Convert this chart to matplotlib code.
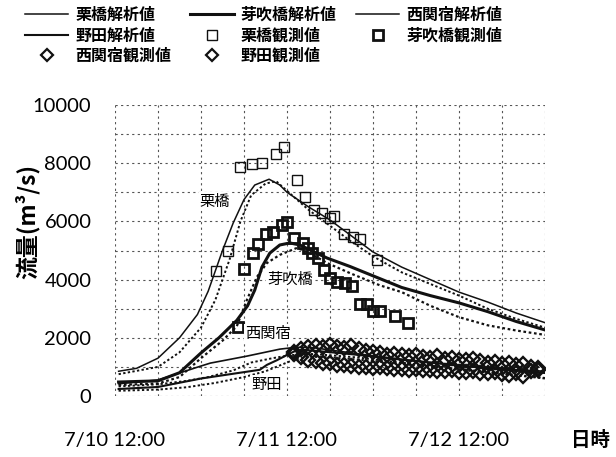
import matplotlib
matplotlib.use("Agg")
import matplotlib.pyplot as plt
from matplotlib.ticker import MultipleLocator
from matplotlib.lines import Line2D

plt.rcParams['font.family'] = ['Noto Sans CJK JP', 'DejaVu Sans']

# hours counted from 7/10 12:00
x_ticks = [0, 24, 48]
x_labels = ['7/10 12:00', '7/11 12:00', '7/12 12:00']

# analysis values (solid) and second run (dotted)
kuri_h = [0.5, 3, 6, 9, 11.5, 13, 15, 16.5, 18, 19.5, 21.5, 23, 24, 27, 30, 33, 36, 40, 44, 48, 52, 56, 60]
kuri_v = [850, 950, 1300, 2000, 2800, 3600, 5000, 5950, 6750, 7250, 7450, 7250, 7000, 6500, 6050, 5500, 4950, 4430, 4000, 3570, 3230, 2850, 2520]
kuri_dot_h = [0.5, 6, 9, 12, 14, 16, 17.5, 19, 21, 22.5, 24, 27, 30, 33, 36, 40, 44, 48, 52, 56, 60]
kuri_dot_v = [750, 1000, 1500, 2350, 3300, 4700, 6000, 6900, 7300, 7380, 7050, 6400, 5850, 5300, 4800, 4250, 3850, 3450, 3000, 2650, 2350]

mebu_h = [0.5, 6, 9, 12, 14.5, 17, 18.5, 19.5, 20.5, 21.6, 23, 24.4, 25.8, 27.2, 29.6, 32.8, 37.4, 40, 44, 48, 52, 56, 60]
mebu_v = [480, 520, 800, 1480, 2000, 2600, 3100, 3640, 4430, 4910, 5190, 5260, 5190, 5020, 4740, 4450, 3990, 3730, 3450, 3200, 2900, 2560, 2270]
mebu_dot_h = [0.5, 6, 9, 12, 15, 17, 18.4, 19.8, 21.2, 23, 25.4, 27.2, 29.6, 33, 37, 40, 44, 48, 52, 56, 60]
mebu_dot_v = [380, 430, 650, 1300, 1900, 2400, 3300, 4090, 4570, 4850, 5090, 4910, 4570, 4200, 3800, 3570, 3100, 2710, 2430, 2250, 2100]

nishi_h = [0.5, 6, 9, 12, 13.3, 18.4, 23, 24.4, 26, 28, 30, 33, 36, 40, 44, 48, 52, 56, 60]
nishi_v = [420, 550, 790, 1030, 1130, 1370, 1610, 1650, 1680, 1650, 1580, 1480, 1380, 1260, 1150, 1050, 960, 900, 850]
nishi_dot_h = [0.5, 6, 10, 13, 16.5, 19, 22, 24.4, 27, 30, 34, 38, 42, 46, 50, 54, 57, 60]
nishi_dot_v = [330, 400, 520, 650, 880, 1150, 1300, 1400, 1450, 1400, 1320, 1200, 1090, 980, 880, 780, 700, 620]

noda_h = [0.5, 6, 12, 18, 20.2, 21.2, 22.6, 24, 25, 26.5, 28, 32, 36, 40, 44, 48, 52, 56, 60]
noda_v = [240, 310, 600, 820, 900, 1070, 1230, 1410, 1530, 1580, 1550, 1460, 1360, 1250, 1150, 1050, 950, 870, 790]
noda_dot_h = [0.5, 6, 10, 14, 18, 21, 23, 25, 27, 30, 34, 38, 42, 46, 50, 54, 57, 60]
noda_dot_v = [180, 220, 300, 450, 650, 850, 1050, 1250, 1350, 1330, 1250, 1150, 1050, 950, 850, 760, 680, 600]

# observed values
kuri_obs_h = [14.1, 15.8, 17.4, 19.1, 20.5, 22.5, 23.6, 25.4, 26.5, 27.8, 28.9, 30.0, 30.6, 32.0, 33.2, 34.2, 36.6]
kuri_obs_v = [4300, 4980, 7870, 7970, 8010, 8320, 8560, 7420, 6840, 6390, 6290, 6120, 6190, 5570, 5460, 5400, 4670]

mebu_obs_h = [17.2, 18.0, 19.3, 20.0, 21.1, 22.0, 23.3, 24.0, 25.0, 26.2, 26.9, 27.5, 28.3, 29.2, 30.0, 31.0,
              32.1, 33.1, 34.2, 35.2, 36.0, 37.0, 39.1, 40.9]
mebu_obs_v = [2370, 4360, 4910, 5220, 5570, 5640, 5880, 5980, 5430, 5260, 5090, 4910, 4740, 4330, 4050, 3920,
              3880, 3780, 3160, 3160, 2920, 2920, 2750, 2510]

obs_h = [25, 26, 27, 28, 29, 30, 31, 32, 33, 34, 35, 36, 37, 38, 39, 40, 41, 42, 43, 44, 45, 46, 47, 48,
         49, 50, 51, 52, 53, 54, 55, 56, 57, 58, 59]
nishi_obs_v = [1500, 1620, 1700, 1720, 1680, 1740, 1700, 1660, 1720, 1620, 1560, 1500, 1470, 1420, 1450, 1400,
               1380, 1420, 1350, 1300, 1360, 1280, 1300, 1250, 1220, 1280, 1200, 1150, 1180, 1100, 1120, 1050,
               1100, 1000, 950]
noda_obs_v = [1450, 1350, 1250, 1200, 1150, 1120, 1080, 1050, 1020, 1000, 980, 960, 980, 950, 930, 920,
              900, 930, 880, 900, 870, 850, 880, 840, 820, 860, 800, 780, 820, 750, 720, 780, 700, 850, 880]

fig = plt.figure(figsize=(6.16, 4.57), dpi=100)
ax = fig.add_axes([0.1867, 0.1335, 0.698, 0.6367])

k = '#111111'
dot = (0, (1.2, 1.2))
ax.plot(kuri_h, kuri_v, color=k, lw=1.1, zorder=3)
ax.plot(kuri_dot_h, kuri_dot_v, color=k, lw=1.4, ls=dot, zorder=3)
ax.plot(mebu_h, mebu_v, color=k, lw=2.2, zorder=3)
ax.plot(mebu_dot_h, mebu_dot_v, color=k, lw=1.6, ls=dot, zorder=3)
ax.plot(nishi_h, nishi_v, color=k, lw=1.2, zorder=3)
ax.plot(nishi_dot_h, nishi_dot_v, color=k, lw=1.4, ls=dot, zorder=3)
ax.plot(noda_h, noda_v, color=k, lw=1.5, zorder=3)
ax.plot(noda_dot_h, noda_dot_v, color=k, lw=1.4, ls=dot, zorder=3)

ax.plot(kuri_obs_h, kuri_obs_v, ls='none', marker='s', ms=7.5, mfc='none', mec=k, mew=1.0, zorder=4)
ax.plot(mebu_obs_h, mebu_obs_v, ls='none', marker='s', ms=7.5, mfc='none', mec=k, mew=2.0, zorder=4)
ax.plot(obs_h, nishi_obs_v, ls='none', marker='D', ms=7.5, mfc='none', mec=k, mew=1.7, zorder=4)
ax.plot(obs_h, noda_obs_v, ls='none', marker='D', ms=7.5, mfc='none', mec=k, mew=1.7, zorder=4)

lab_box = dict(facecolor='white', edgecolor='none', pad=0.5)
ax.text(13.95, 6700, '栗橋', fontsize=11, ha='center', va='center', bbox=lab_box, zorder=5)
ax.text(24.4, 4020, '芽吹橋', fontsize=11, ha='center', va='center', bbox=lab_box, zorder=5)
ax.text(21.3, 2160, '西関宿', fontsize=11, ha='center', va='center', bbox=lab_box, zorder=5)
ax.text(21.1, 410, '野田', fontsize=11, ha='center', va='center', bbox=lab_box, zorder=5)

ax.set_xlim(0, 60)
ax.set_ylim(0, 10000)
ax.set_xticks(x_ticks)
ax.set_xticklabels(x_labels, fontfamily='Lato', fontsize=14.5)
ax.xaxis.set_minor_locator(MultipleLocator(6))
ax.set_yticks(range(0, 10001, 2000))
ax.set_yticklabels([str(v) for v in range(0, 10001, 2000)], fontfamily='Lato', fontsize=14.5)
ax.yaxis.set_minor_locator(MultipleLocator(1000))
ax.tick_params(which='both', length=0)
ax.tick_params(axis='x', pad=26)
ax.tick_params(axis='y', pad=17)
ax.grid(which='both', color='#555555', ls=(0, (2, 3)), lw=0.8)
for s in ax.spines.values():
    s.set_visible(False)

fig.text(0.044, 0.515, '流量(m³/s)', rotation=90, fontsize=16.5, fontweight='bold', ha='center', va='center')
fig.text(0.958, 0.037, '日時', fontsize=14, fontweight='bold', ha='center', va='center')

# legend, order chosen so the columns read row by row
handles = [
    Line2D([], [], color=k, lw=1.1),
    Line2D([], [], color=k, lw=1.5),
    Line2D([], [], ls='none', marker='D', ms=6.5, mfc='none', mec=k, mew=1.6),
    Line2D([], [], color=k, lw=2.2),
    Line2D([], [], ls='none', marker='s', ms=6.5, mfc='none', mec=k, mew=1.0),
    Line2D([], [], ls='none', marker='D', ms=6.5, mfc='none', mec=k, mew=1.6),
    Line2D([], [], color=k, lw=1.1),
    Line2D([], [], ls='none', marker='s', ms=6.5, mfc='none', mec=k, mew=2.0),
]
labels = ['栗橋解析値', '野田解析値', '西関宿観測値', '芽吹橋解析値', '栗橋観測値', '野田観測値', '西関宿解析値', '芽吹橋観測値']
fig.legend(handles, labels, loc='upper left', bbox_to_anchor=(25 / 616, 1 - 7 / 457), ncol=3, frameon=False,
           prop={'weight': 'bold', 'size': 11.5}, handlelength=2.7, handletextpad=0.45, columnspacing=1.2,
           labelspacing=0.28, borderpad=0, borderaxespad=0)

fig.savefig('out.png', dpi=100)
